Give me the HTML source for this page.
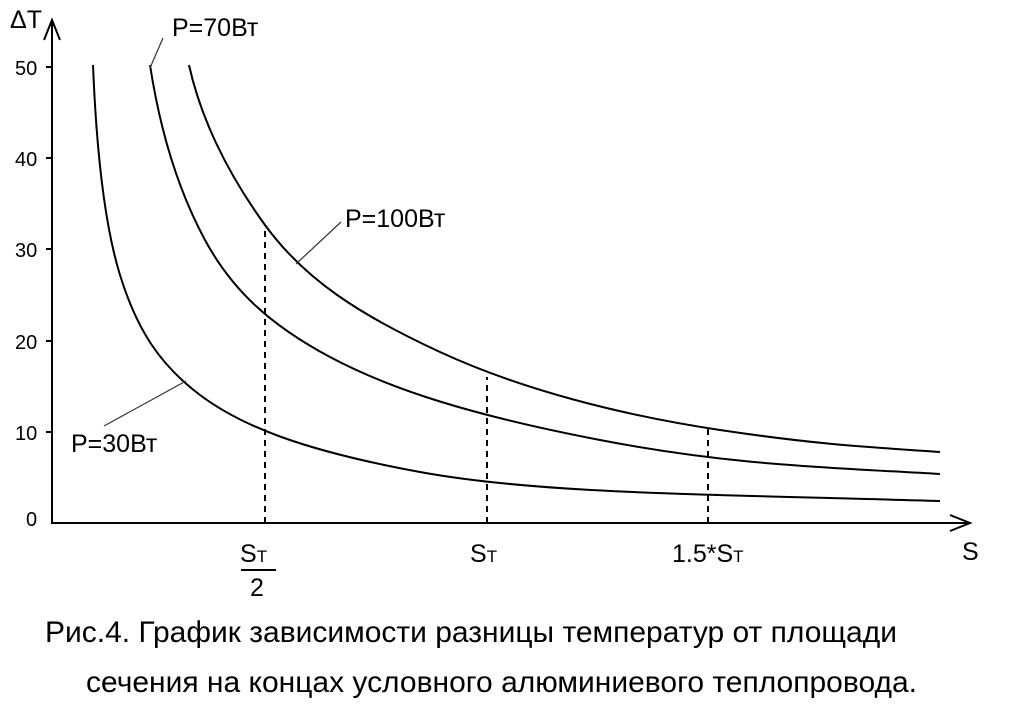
<!DOCTYPE html>
<html><head><meta charset="utf-8"><style>
html,body{margin:0;padding:0;background:#fff;}
svg{display:block;}
text{font-family:"Liberation Sans",Arial,sans-serif;fill:#000;}
</style></head><body>
<svg width="1031" height="707" viewBox="0 0 1031 707" xmlns="http://www.w3.org/2000/svg">
<g stroke="#000" stroke-width="2" fill="none">
<line x1="52" y1="524" x2="52" y2="22"/>
<polyline points="44,40 52,20 60,40"/>
<line x1="52" y1="523" x2="968" y2="523"/>
<polyline points="950,515 970,523 950,531"/>
<line x1="46" y1="67" x2="52" y2="67"/>
<line x1="46" y1="158" x2="52" y2="158"/>
<line x1="46" y1="249" x2="52" y2="249"/>
<line x1="46" y1="341" x2="52" y2="341"/>
<line x1="46" y1="432" x2="52" y2="432"/>
</g>
<g stroke="#000" stroke-width="2" fill="none" stroke-linejoin="round">
<path d="M93,65 C96,140 103,220 120,275 S160,365 200,395 S300,450 420,472 S700,494 940,501"/>
<path d="M150,65 C160,130 178,190 205,240 S270,325 330,357 S470,415 600,440 S820,467 940,474"/>
<path d="M189,65 C200,115 225,170 265,225 S360,315 440,352 S620,415 720,430 S870,447 940,452"/>
</g>
<g stroke="#000" stroke-width="2" stroke-dasharray="6,5">
<line x1="265" y1="523" x2="265" y2="225"/>
<line x1="487" y1="523" x2="487" y2="377"/>
<line x1="708" y1="523" x2="708" y2="428"/>
</g>
<g stroke="#333" stroke-width="1.2">
<line x1="163" y1="38" x2="150" y2="68"/>
<line x1="341" y1="222" x2="296" y2="264"/>
<line x1="104" y1="426" x2="186" y2="381"/>
</g>
<g font-size="20">
<text x="15" y="75">50</text>
<text x="15" y="166">40</text>
<text x="15" y="257">30</text>
<text x="15" y="349">20</text>
<text x="15" y="440">10</text>
<text x="26" y="526">0</text>
</g>
<g font-size="25">
<text x="10" y="28">ΔT</text>
<text x="172" y="36">P=70Вт</text>
<text x="345" y="227">P=100Вт</text>
<text x="71" y="452">P=30Вт</text>
<text x="240" y="562">S<tspan font-size="17">T</tspan></text>
<line x1="241" y1="570" x2="276" y2="570" stroke="#000" stroke-width="2"/>
<text x="250" y="596">2</text>
<text x="470" y="562">S<tspan font-size="17">T</tspan></text>
<text x="672" y="562">1.5*S<tspan font-size="17">T</tspan></text>
<text x="962" y="560">S</text>
</g>
<g font-size="30">
<text x="45" y="642" textLength="852">Рис.4. График зависимости разницы температур от площади</text>
<text x="86" y="692" textLength="831">сечения на концах условного алюминиевого теплопровода.</text>
</g>
</svg>
</body></html>
